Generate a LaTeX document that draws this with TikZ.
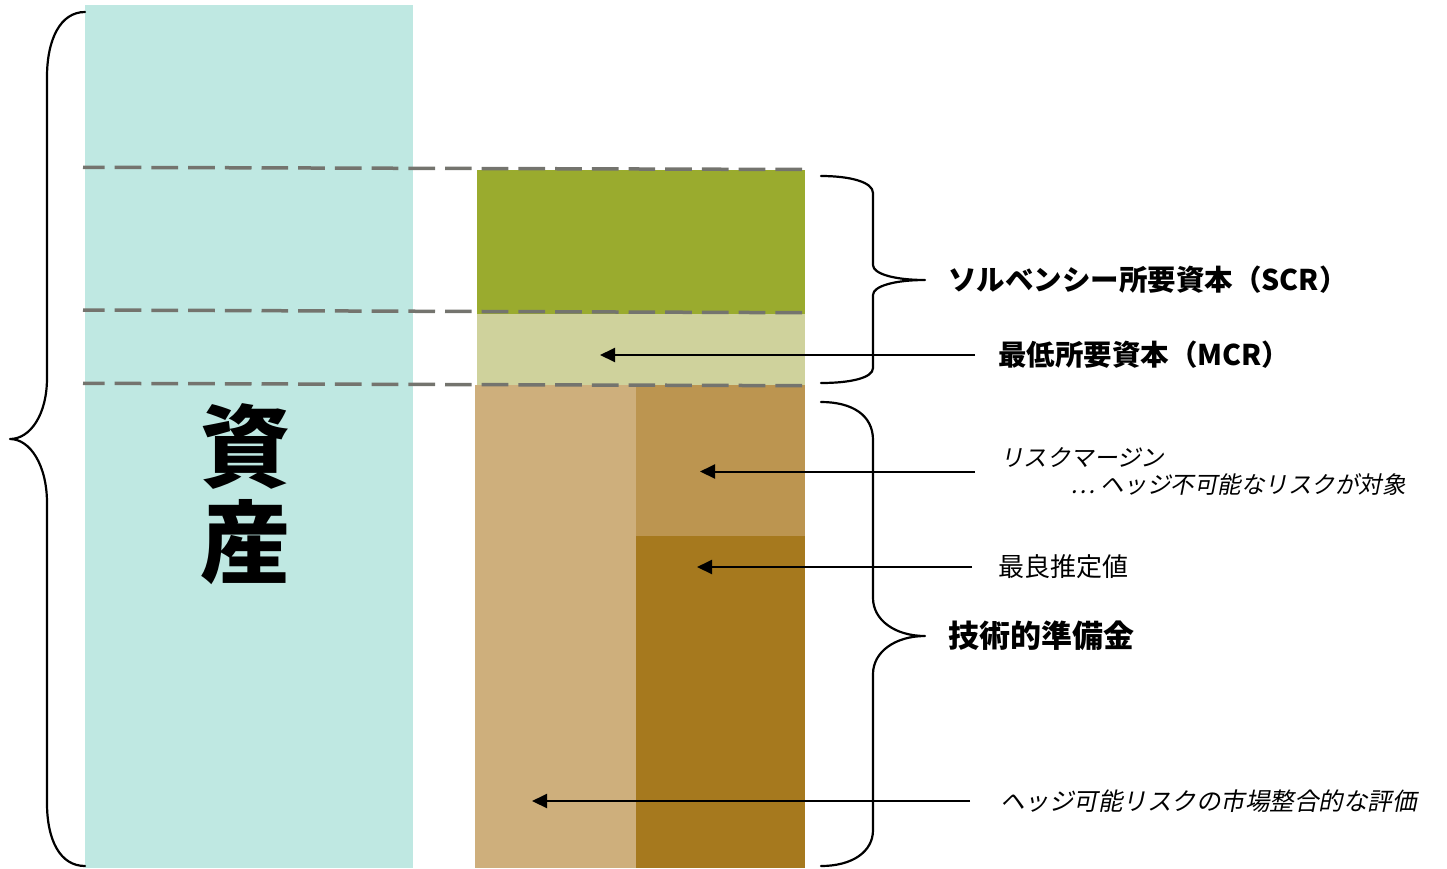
\documentclass[tikz,border=0pt]{standalone}
\usepackage{fontspec}
\newfontfamily\jp{Noto Sans CJK JP}
\newfontfamily\jpit{Noto Sans CJK JP}[FakeSlant=0.2]
\usetikzlibrary{arrows.meta}
\definecolor{cAsset}{HTML}{BFE8E2}
\definecolor{cSCR}{HTML}{9AAB2E}
\definecolor{cMCR}{HTML}{CFD29C}
\definecolor{cTanL}{HTML}{CEAF7C}
\definecolor{cTanM}{HTML}{BC9550}
\definecolor{cTanD}{HTML}{A6791E}
\definecolor{cDash}{HTML}{74746E}
\tikzset{
  bracepath/.style={line width=2.2pt, line join=round, line cap=round},
  arr/.style={line width=2pt, -{Triangle[length=15pt,width=14pt]}},
  dashline/.style={draw=cDash, line width=3.5pt, dash pattern=on 26.7pt off 10pt, dash phase=5pt},
  lbl/.style={anchor=west, inner sep=0pt, align=left},
}
\begin{document}
\begin{tikzpicture}[x=1pt,y=-1pt]
\useasboundingbox (0,0) rectangle (1447,868);
% columns
\fill[cAsset] (85,5) rectangle (413,868);
\fill[cSCR] (477,170) rectangle (805,314);
\fill[cMCR] (477,314) rectangle (805,386);
\fill[cTanL] (475,385) rectangle (636,868);
\fill[cTanM] (636,385) rectangle (805,536);
\fill[cTanD] (636,536) rectangle (805,868);
% dashed lines
\draw[dashline] (83,167.3) -- (805,169.5);
\draw[dashline] (83,310) -- (805,312.7);
\draw[dashline] (83,383.3) -- (805,385.7);
% big label
\node[inner sep=0pt, align=center, font={\jp\bfseries\fontsize{90}{96}\selectfont}] (asset) at (245,494) {資\\産};
% left brace
\draw[bracepath] (85,12) .. controls (60,12) and (47,40) .. (47,77) -- (47,378)
  .. controls (47,415) and (30,439) .. (10,439)
  .. controls (30,439) and (47,465) .. (47,503) -- (47,803)
  .. controls (47,840) and (60,866) .. (85,866);
% SCR brace
\draw[bracepath] (821,176) .. controls (850,176) and (873,182) .. (873,193) -- (873,265)
  .. controls (873,274) and (895,280) .. (925,280)
  .. controls (895,280) and (873,286) .. (873,295) -- (873,368)
  .. controls (873,378) and (850,383) .. (821,383);
% technical provisions brace
\draw[bracepath] (821,402) .. controls (852,402) and (873,415) .. (873,440) -- (873,598)
  .. controls (873,620) and (895,636) .. (925,636)
  .. controls (895,636) and (873,652) .. (873,674) -- (873,830)
  .. controls (873,852) and (852,866) .. (821,866);
% labels
\node[lbl, font={\jp\bfseries\fontsize{28.5}{34}\selectfont}] (scr) at (948,280) {ソルベンシー所要資本（SCR）};
\node[lbl, font={\jp\bfseries\fontsize{28.5}{34}\selectfont}] (mcr) at (998,355) {最低所要資本（MCR）};
\node[lbl, font={\jpit\fontsize{23.5}{27}\selectfont}] (rm) at (1000,471.5) {リスクマージン\\\hspace*{70pt}… ヘッジ不可能なリスクが対象};
\node[lbl, font={\jp\fontsize{26}{30}\selectfont}] (be) at (998,567) {最良推定値};
\node[lbl, font={\jp\bfseries\fontsize{31}{36}\selectfont}] (tp) at (948,636) {技術的準備金};
\node[lbl, font={\jpit\fontsize{24.5}{29}\selectfont}] (hedge) at (1000,801) {ヘッジ可能リスクの市場整合的な評価};
% arrow targets
\coordinate (mcrT) at (600,355);
\coordinate (rmT) at (700,471.5);
\coordinate (beT) at (697,567);
\coordinate (hedgeT) at (532,801);
\draw[arr] ([xshift=-23pt]mcr.west) -- (mcrT);
\draw[arr] ([xshift=-25pt]rm.west) -- (rmT);
\draw[arr] ([xshift=-26pt]be.west) -- (beT);
\draw[arr] ([xshift=-30pt]hedge.west) -- (hedgeT);
\end{tikzpicture}
\end{document}
